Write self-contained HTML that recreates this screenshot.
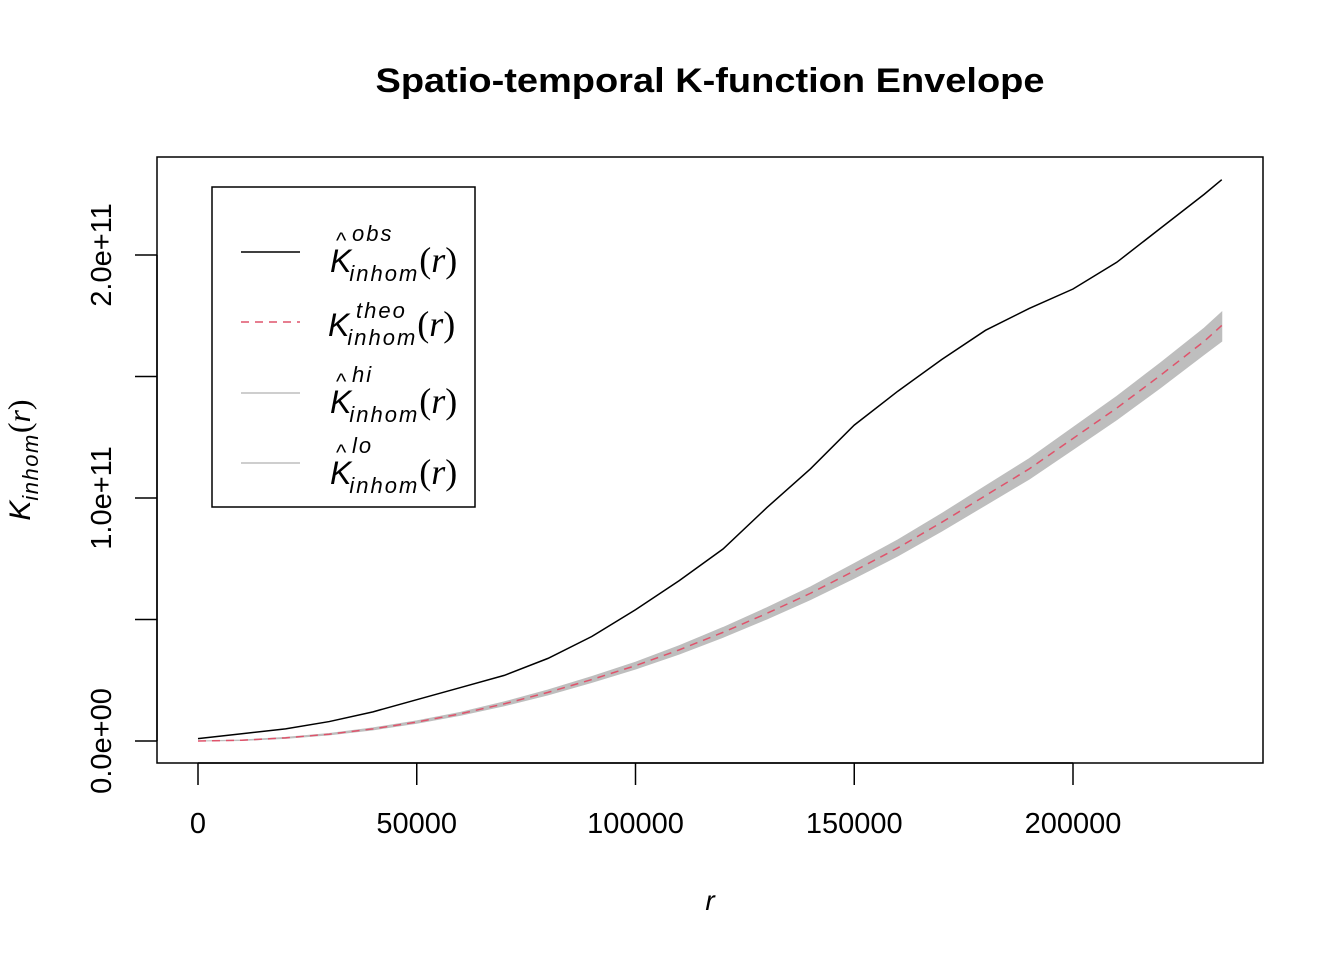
<!DOCTYPE html>
<html><head><meta charset="utf-8"><style>
html,body{margin:0;padding:0;background:#fff;}
svg{display:block;font-family:"Liberation Sans",sans-serif;}
</style></head><body>
<svg id="chart" width="1344" height="960" viewBox="0 0 1344 960">
<text x="710" y="92" text-anchor="middle" font-size="34" font-weight="bold" textLength="669" lengthAdjust="spacingAndGlyphs">Spatio-temporal K-function Envelope</text>
<rect x="157" y="157" width="1106" height="606" fill="none" stroke="#000" stroke-width="1.5"/>
<g id="series"></g>
<g id="xaxis"></g>
<g id="yaxis"></g>
<text x="710" y="910" text-anchor="middle" font-size="28" font-style="italic">r</text>
<text transform="translate(30,460) rotate(-90)" text-anchor="middle" font-size="30" font-style="italic">K<tspan font-size="22" dy="8" letter-spacing="1.5">inhom</tspan><tspan dy="-8" font-family="Liberation Serif" font-size="32" font-style="normal">(</tspan><tspan font-family="Liberation Serif" font-size="32">r</tspan><tspan font-family="Liberation Serif" font-size="32" font-style="normal">)</tspan></text>
<g>
<rect x="212" y="187" width="263" height="320" fill="#fff" stroke="#000" stroke-width="1.5"/>
<line x1="241" y1="252" x2="300" y2="252" stroke="#000" stroke-width="1.5"/>
<line x1="241" y1="322" x2="300" y2="322" stroke="#DF536B" stroke-width="1.5" stroke-dasharray="8,6"/>
<line x1="241" y1="393" x2="300" y2="393" stroke="#bebebe" stroke-width="1.5"/>
<line x1="241" y1="463" x2="300" y2="463" stroke="#bebebe" stroke-width="1.5"/>
<g font-style="italic">
<text x="330" y="272" font-size="32">K<tspan font-size="22" dx="-2" dy="9" letter-spacing="2">inhom</tspan><tspan font-family="Liberation Serif" font-size="36" font-style="normal" dy="-9">(</tspan><tspan font-family="Liberation Serif" font-size="36">r</tspan><tspan font-family="Liberation Serif" font-size="36" font-style="normal">)</tspan></text>
<text x="336" y="248" font-size="22" font-style="normal">^</text>
<text x="352" y="241" font-size="22" letter-spacing="2">obs</text>
<text x="328" y="336" font-size="32">K<tspan font-size="22" dx="-2" dy="9" letter-spacing="2">inhom</tspan><tspan font-family="Liberation Serif" font-size="36" font-style="normal" dy="-9">(</tspan><tspan font-family="Liberation Serif" font-size="36">r</tspan><tspan font-family="Liberation Serif" font-size="36" font-style="normal">)</tspan></text>
<text x="356" y="318" font-size="22" letter-spacing="2">theo</text>
<text x="330" y="413" font-size="32">K<tspan font-size="22" dx="-2" dy="9" letter-spacing="2">inhom</tspan><tspan font-family="Liberation Serif" font-size="36" font-style="normal" dy="-9">(</tspan><tspan font-family="Liberation Serif" font-size="36">r</tspan><tspan font-family="Liberation Serif" font-size="36" font-style="normal">)</tspan></text>
<text x="336" y="389" font-size="22" font-style="normal">^</text>
<text x="352" y="382" font-size="22" letter-spacing="2">hi</text>
<text x="330" y="484" font-size="32">K<tspan font-size="22" dx="-2" dy="9" letter-spacing="2">inhom</tspan><tspan font-family="Liberation Serif" font-size="36" font-style="normal" dy="-9">(</tspan><tspan font-family="Liberation Serif" font-size="36">r</tspan><tspan font-family="Liberation Serif" font-size="36" font-style="normal">)</tspan></text>
<text x="336" y="460" font-size="22" font-style="normal">^</text>
<text x="352" y="453" font-size="22" letter-spacing="2">lo</text>
</g>
</g>
</svg>
<script>
const rVals=[0,10000,20000,30000,40000,50000,60000,70000,80000,90000,100000,110000,120000,130000,140000,150000,160000,170000,180000,190000,200000,210000,220000,230000,234000];
const obsVals=[0.01,0.03,0.05,0.08,0.12,0.17,0.22,0.27,0.34,0.43,0.54,0.66,0.79,0.96,1.12,1.30,1.44,1.57,1.69,1.78,1.86,1.97,2.11,2.25,2.31];
const theoVals=[0,0.003,0.013,0.028,0.05,0.078,0.112,0.153,0.20,0.253,0.31,0.375,0.447,0.525,0.608,0.70,0.795,0.90,1.01,1.12,1.245,1.37,1.505,1.645,1.71];
const hiOffsets=[0,0.001,0.002,0.003,0.004,0.005,0.006,0.008,0.01,0.012,0.014,0.017,0.02,0.023,0.026,0.03,0.033,0.036,0.039,0.042,0.045,0.048,0.051,0.054,0.055];
const loOffsets=[0,0.001,0.002,0.003,0.004,0.005,0.006,0.008,0.01,0.012,0.014,0.017,0.02,0.023,0.026,0.03,0.033,0.036,0.039,0.042,0.045,0.048,0.051,0.054,0.065];
const xTicks=[0,50000,100000,150000,200000];
const xTickLabels=["0","50000","100000","150000","200000"];
const yTicks=[0,0.5,1.0,1.5,2.0];
const yTickLabels=["0.0e+00","","1.0e+11","","2.0e+11"];
(function(){
const NS="http://www.w3.org/2000/svg";
function xs(v){return 198+v*0.004375;}
function ys(v){return 741-v*243;}
function mk(tag,attrs,parent){const e=document.createElementNS(NS,tag);for(const k in attrs)e.setAttribute(k,attrs[k]);parent.appendChild(e);return e;}
const xa=document.getElementById('xaxis'),ya=document.getElementById('yaxis'),sg=document.getElementById('series');
mk('line',{x1:xs(xTicks[0]),x2:xs(xTicks[xTicks.length-1]),y1:763,y2:763,stroke:'#000','stroke-width':1.5},xa);
xTicks.forEach((t,i)=>{
 const tk=mk('line',{x1:xs(t),x2:xs(t),y1:763,y2:785,stroke:'#000','stroke-width':1.5},xa);
 
 
 const tx=mk('text',{x:xs(t),y:833,'text-anchor':'middle','font-size':29},xa);
 
 
 tx.textContent=xTickLabels[i];
});
mk('line',{x1:157,x2:157,y1:ys(yTicks[0]),y2:ys(yTicks[yTicks.length-1]),stroke:'#000','stroke-width':1.5},ya);
yTicks.forEach((t,i)=>{
 const tk=mk('line',{x1:135,x2:157,y1:ys(t),y2:ys(t),stroke:'#000','stroke-width':1.5},ya);
 
 
 if(yTickLabels[i]){
  const tx=mk('text',{transform:'translate(111,'+ys(t)+') rotate(-90)','text-anchor':'middle','font-size':29},ya);
  
  
  tx.textContent=yTickLabels[i];
 }
});
const upperPts=[],lowerPts=[];
rVals.forEach((r,i)=>{upperPts.push(xs(r)+','+ys(theoVals[i]+hiOffsets[i]));});
for(let i=rVals.length-1;i>=0;i--)lowerPts.push(xs(rVals[i])+','+ys(theoVals[i]-loOffsets[i]));
const band=mk('polygon',{points:upperPts.concat(lowerPts).join(' '),fill:'#bebebe',stroke:'#bebebe','stroke-width':1},sg);


const theo=mk('polyline',{points:rVals.map((r,i)=>xs(r)+','+ys(theoVals[i])).join(' '),fill:'none',stroke:'#DF536B','stroke-width':1.5,'stroke-dasharray':'8,6'},sg);


const obs=mk('polyline',{points:rVals.map((r,i)=>xs(r)+','+ys(obsVals[i])).join(' '),fill:'none',stroke:'#000','stroke-width':1.5},sg);


})();
</script>
</body></html>
